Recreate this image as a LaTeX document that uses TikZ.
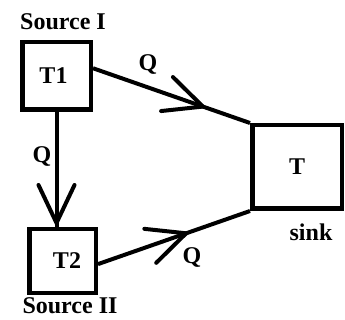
\documentclass[tikz,border=0pt]{standalone}
\usepackage{fontspec}
\setmainfont{Liberation Serif}
\usetikzlibrary{decorations.markings}
\begin{document}
\begin{tikzpicture}[x=1pt,y=-1pt,
  txt/.style={font=\bfseries\fontsize{24}{27}\selectfont, text=black},
  box/.style={draw, line width=4.5pt, inner sep=0pt, txt},
  lbl/.style={inner sep=0pt, txt},
  flow/.style={line width=4pt, postaction={decorate},
    decoration={markings, mark=at position #1 with {\draw[line width=4pt, line cap=round, line join=miter] (-38pt,18pt) -- (0pt,0pt) -- (-38pt,-18pt);}}}]
\useasboundingbox (0,0) rectangle (345,320);
\node[box, minimum width=68.5pt, minimum height=67.5pt] (T1) at (56.5,76) {\hspace*{-6pt}T1};
\node[box, minimum width=66.5pt, minimum height=63.5pt] (T2) at (62.5,261) {\hspace*{9pt}T2};
\node[box, minimum width=89.5pt, minimum height=83.5pt] (T) at (297,167) {T};
\draw[flow=0.70] (T1.12) -- (T.north west);
\draw[flow=0.58] (T2.-5) -- (T.south west);
\draw[flow=-4pt] (T1.south) -- (T1.south |- T2.north);
\node[lbl] (s1) at (63,22) {Source I};
\node[lbl] (s2) at (70,306) {Source II};
\node[lbl] (sk) at (311,232) {sink};
\node[lbl] (q1) at (148,65) {Q};
\node[lbl] (q2) at (42,157) {Q};
\node[lbl] (q3) at (192,257) {Q};
\end{tikzpicture}
\end{document}
